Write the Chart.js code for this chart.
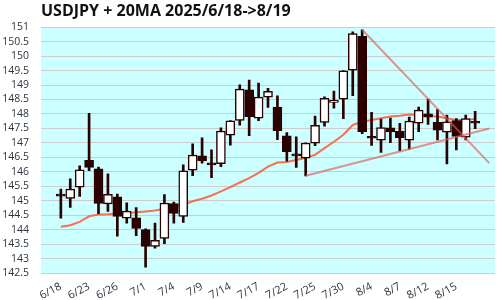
<!DOCTYPE html>
<html>
<head>
<meta charset="utf-8">
<script src="https://cdn.jsdelivr.net/npm/chart.js@4"></script>
<style>
  body { margin: 0; background: #fff; }
  #wrap { width: 500px; height: 300px; }
</style>
</head>
<body>
<div id="wrap"><canvas id="myChart"></canvas></div>
<script>
const dates = [
  "6/18", "6/19", "6/20", "6/23", "6/24", "6/25", "6/26", "6/27", "6/30",
  "7/1", "7/2", "7/3", "7/4", "7/7", "7/8", "7/9", "7/10", "7/11", "7/14",
  "7/15", "7/16", "7/17", "7/18", "7/21", "7/22", "7/23", "7/24", "7/25",
  "7/28", "7/29", "7/30", "7/31", "8/1", "8/4", "8/5", "8/6", "8/7", "8/8",
  "8/11", "8/12", "8/13", "8/14", "8/15", "8/18", "8/19",
];
const open = [
  145.16, 145.08, 145.47, 146.40, 146.10, 144.89, 145.13, 144.40, 144.41,
  144.00, 143.42, 143.70, 144.90, 144.46, 146.06, 146.55, 146.24, 146.28,
  147.27, 147.78, 148.83, 147.85, 148.58, 148.24, 147.24, 146.55, 146.47,
  146.99, 147.71, 148.40, 148.51, 149.51, 150.68, 147.16, 147.09, 147.52,
  147.40, 147.09, 147.68, 148.00, 147.71, 147.37, 147.77, 147.20, 147.68,
];
const high = [
  145.40, 145.76, 146.21, 148.02, 146.16, 145.93, 145.23, 144.93, 144.76,
  144.03, 144.23, 145.21, 144.95, 146.24, 146.97, 147.17, 146.76, 147.52,
  147.77, 149.01, 149.17, 149.07, 148.89, 148.63, 147.36, 147.21, 147.00,
  147.93, 148.59, 148.79, 149.50, 150.84, 150.91, 148.06, 147.82, 147.86,
  147.68, 147.89, 148.24, 148.51, 148.16, 147.96, 147.84, 147.96, 148.09,
];
const low = [
  144.40, 144.77, 145.15, 146.04, 144.55, 144.63, 143.77, 144.22, 143.79,
  142.70, 143.36, 143.51, 144.22, 144.25, 145.87, 146.30, 145.80, 146.18,
  146.92, 147.61, 147.25, 147.77, 148.23, 147.11, 146.37, 146.15, 145.86,
  146.90, 147.58, 148.20, 147.84, 148.63, 147.32, 146.91, 146.67, 147.01,
  146.72, 146.78, 147.39, 147.64, 147.10, 146.27, 146.76, 147.10, 147.49,
];
const close = [
  145.16, 145.40, 146.07, 146.15, 144.91, 145.22, 144.46, 144.64, 144.04,
  143.42, 143.63, 144.92, 144.56, 146.03, 146.58, 146.38, 146.24, 147.41,
  147.76, 148.86, 147.91, 148.58, 148.78, 147.42, 146.70, 146.55, 146.99,
  147.61, 148.54, 148.47, 149.49, 150.78, 147.39, 147.16, 147.53, 147.38,
  147.18, 147.75, 148.13, 147.89, 147.44, 147.73, 147.22, 147.84, 147.68,
];
const ma20 = [
  144.10, 144.15, 144.27, 144.46, 144.52, 144.53, 144.55, 144.56, 144.60,
  144.63, 144.66, 144.72, 144.78, 144.86, 144.98, 145.07, 145.18, 145.32,
  145.47, 145.63, 145.78, 145.96, 146.18, 146.32, 146.34, 146.41, 146.48,
  146.59, 146.82, 147.04, 147.28, 147.62, 147.73, 147.79, 147.85, 147.91,
  147.94, 147.98, 147.96, 147.93, 147.91, 147.85, 147.79, 147.79, 147.83,
];
// trend lines (index, price)
const resistX = [32, 45.5];
const resistY = [150.91, 146.3];
const supportX = [26, 45.5];
const supportY = [145.86, 147.5];

const yTicks = { min: 142.5, max: 151, step: 0.5 };
const tickIdx = dates.map((d, i) => i).filter((i) => i % 3 === 0);

const DARK = "#2a0000";
const upDay = close.map((c, i) => c > open[i]);

const bodies = dates.map((d, i) => ({ x: i, y: [open[i], close[i]] }));
const wicks = dates.map((d, i) => ({ x: i, y: [low[i], high[i]] }));
const maPts = dates.map((d, i) => ({ x: i, y: ma20[i] }));
const resistPts = resistX.map((x, i) => ({ x: x, y: resistY[i] }));
const supportPts = supportX.map((x, i) => ({ x: x, y: supportY[i] }));

const plotBg = {
  id: "plotBg",
  beforeDraw(chart) {
    const { ctx, chartArea: a } = chart;
    ctx.save();
    ctx.fillStyle = "#ccffff";
    ctx.fillRect(a.left, a.top, a.right - a.left, a.bottom - a.top);
    ctx.restore();
  },
};

const ctx = document.getElementById("myChart").getContext("2d");
new Chart(ctx, {
  type: "bar",
  data: {
    datasets: [
      {
        type: "line",
        data: resistPts,
        borderColor: "rgba(225,90,90,0.65)",
        borderWidth: 2,
        pointRadius: 0,
        clip: { left: 0, top: 0, right: 10, bottom: 0 },
        order: 0,
      },
      {
        type: "line",
        data: supportPts,
        borderColor: "rgba(225,90,90,0.65)",
        borderWidth: 2,
        pointRadius: 0,
        clip: { left: 0, top: 0, right: 10, bottom: 0 },
        order: 0,
      },
      {
        data: bodies,
        backgroundColor: upDay.map((u) => (u ? "#ffffff" : DARK)),
        borderColor: DARK,
        borderWidth: 1.5,
        borderSkipped: false,
        barThickness: 9,
        minBarLength: 2,
        grouped: false,
        order: 1,
      },
      {
        data: wicks,
        backgroundColor: DARK,
        borderWidth: 0,
        barThickness: 2,
        grouped: false,
        order: 2,
      },
      {
        type: "line",
        data: maPts,
        borderColor: "rgba(255,95,65,0.9)",
        borderWidth: 2,
        pointRadius: 0,
        tension: 0,
        order: 3,
      },
    ],
  },
  options: {
    responsive: true,
    maintainAspectRatio: false,
    animation: false,
    layout: { padding: { right: 5 } },
    plugins: {
      legend: { display: false },
      tooltip: { enabled: false },
      title: {
        display: true,
        text: "USDJPY + 20MA 2025/6/18->8/19",
        align: "start",
        fullSize: false,
        color: "#111",
        font: { family: "Open Sans", size: 16, weight: "bold", lineHeight: 1.2 },
        padding: { top: 2, bottom: 6 },
      },
    },
    scales: {
      x: {
        type: "linear",
        min: -0.5,
        max: 44.5,
        grid: { display: false },
        border: { display: false },
        afterBuildTicks: (s) => {
          s.ticks = tickIdx.map((v) => ({ value: v }));
        },
        afterFit: (s) => {
          s.height = 27;
        },
        ticks: {
          autoSkip: false,
          minRotation: 28,
          maxRotation: 28,
          padding: -1,
          color: "#2b3540",
          font: { family: "Open Sans", size: 11 },
          callback: (v) => dates[v],
        },
      },
      y: {
        min: yTicks.min,
        max: yTicks.max,
        grid: { color: "#cccccc", drawTicks: false },
        border: { display: false },
        afterFit: (s) => {
          s.width = 41;
        },
        ticks: {
          stepSize: yTicks.step,
          autoSkip: false,
          padding: 12,
          color: "#2b3540",
          font: { family: "Open Sans", size: 10.5 },
          callback: (v) => String(Math.round(v * 10) / 10),
        },
      },
    },
  },
  plugins: [plotBg],
});
</script>
</body>
</html>
